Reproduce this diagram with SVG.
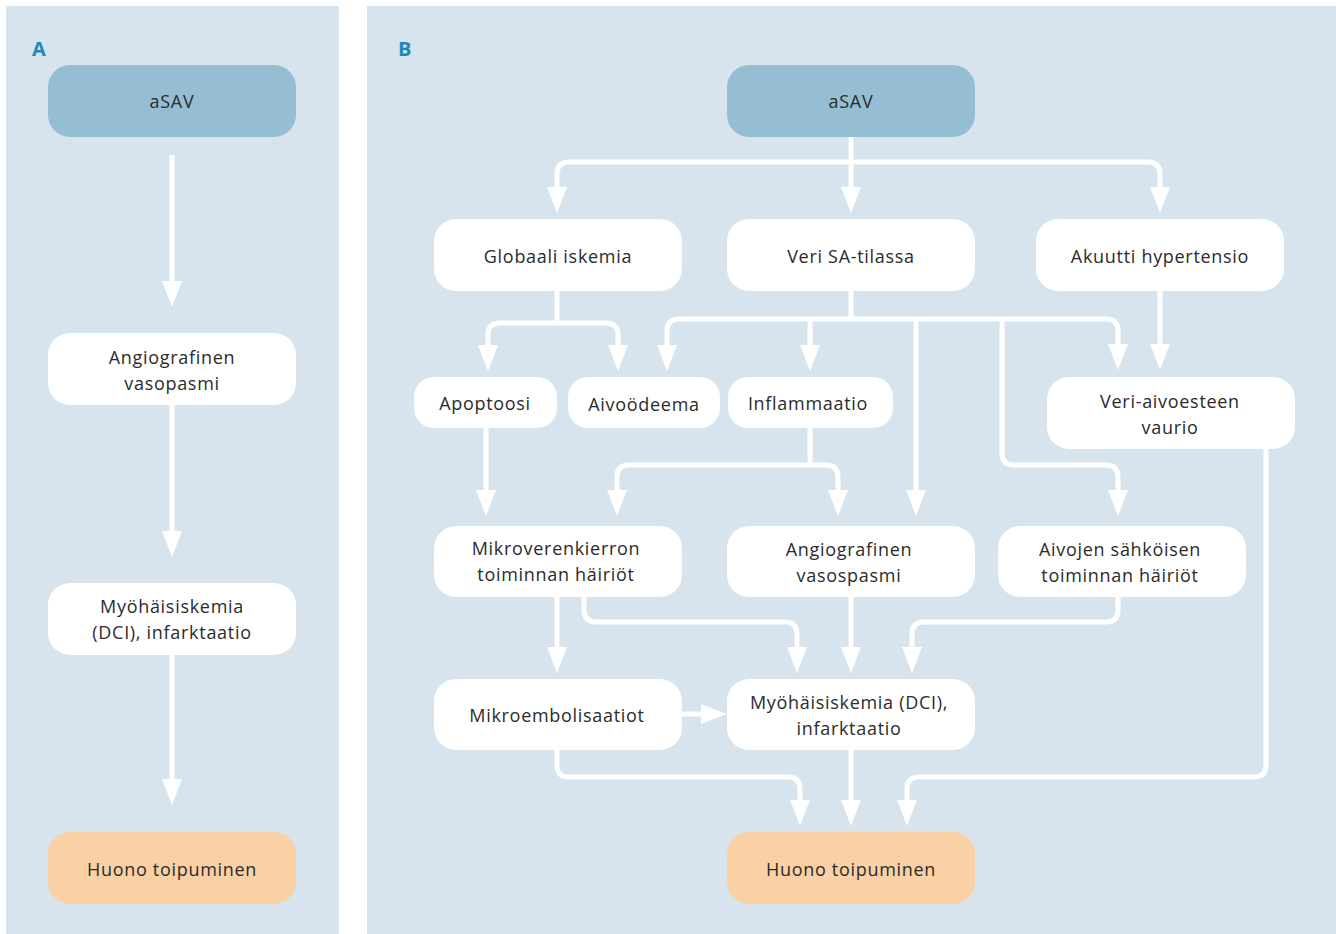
<svg xmlns="http://www.w3.org/2000/svg" width="1336" height="934" viewBox="0 0 1336 934">
<style>
.panel{fill:#d7e3ed}
.node rect{fill:#ffffff}
.node.top rect{fill:#96bed3}
.node.end rect{fill:#fad0a5}
.node text{font-family:"Open Sans","Noto Sans",sans-serif;font-size:18px;fill:#2b2b2b;text-anchor:middle;letter-spacing:0.7px}
.lbl{font-family:"Open Sans","Noto Sans",sans-serif;font-size:20px;font-weight:bold;fill:#1b8ab6}
#connectors path{fill:none;stroke:#ffffff;stroke-width:5}
</style>
<defs>
<marker id="ah" markerUnits="userSpaceOnUse" markerWidth="27" markerHeight="20" refX="0" refY="10" orient="auto" overflow="visible">
<path d="M0,0 L26,10 L0,20 z" fill="#ffffff"/>
</marker>
</defs>
<rect class="panel" x="6" y="6" width="333" height="928"/>
<rect class="panel" x="367" y="6" width="969" height="928"/>
<text class="lbl" x="32" y="56">A</text>
<text class="lbl" x="398" y="56">B</text>

<g id="connectors">
<path d="M172,155 V281" marker-end="url(#ah)"/>
<path d="M172,405 V531" marker-end="url(#ah)"/>
<path d="M172,655 V779" marker-end="url(#ah)"/>
<path d="M851,137 V187" marker-end="url(#ah)"/>
<path d="M851,162 H569 Q557,162 557,174 V187" marker-end="url(#ah)"/>
<path d="M851,162 H1148 Q1160,162 1160,174 V187" marker-end="url(#ah)"/>
<path d="M557,291 V323"/>
<path d="M557,323 H500 Q488,323 488,335 V345" marker-end="url(#ah)"/>
<path d="M557,323 H606 Q618,323 618,335 V345" marker-end="url(#ah)"/>
<path d="M851,291 V319"/>
<path d="M851,319 H679 Q667,319 667,331 V345" marker-end="url(#ah)"/>
<path d="M810,319 V345" marker-end="url(#ah)"/>
<path d="M916,319 V490" marker-end="url(#ah)"/>
<path d="M851,319 H1106 Q1118,319 1118,331 V344" marker-end="url(#ah)"/>
<path d="M1002,319 V453 Q1002,465 1014,465 H1106 Q1118,465 1118,477 V490" marker-end="url(#ah)"/>
<path d="M1160,291 V344" marker-end="url(#ah)"/>
<path d="M486,428 V490" marker-end="url(#ah)"/>
<path d="M810,428 V465"/>
<path d="M810,465 H629 Q617,465 617,477 V490" marker-end="url(#ah)"/>
<path d="M810,465 H826 Q838,465 838,477 V490" marker-end="url(#ah)"/>
<path d="M1266,449 V765 Q1266,777 1254,777 H919 Q907,777 907,789 V800" marker-end="url(#ah)"/>
<path d="M557,597 V647" marker-end="url(#ah)"/>
<path d="M584,597 V610 Q584,622 596,622 H785 Q797,622 797,634 V647" marker-end="url(#ah)"/>
<path d="M851,597 V647" marker-end="url(#ah)"/>
<path d="M1118,597 V610 Q1118,622 1106,622 H924 Q912,622 912,634 V647" marker-end="url(#ah)"/>
<path d="M682,714 H701" marker-end="url(#ah)"/>
<path d="M557,750 V765 Q557,777 569,777 H788 Q800,777 800,789 V800" marker-end="url(#ah)"/>
<path d="M851,750 V800" marker-end="url(#ah)"/>
</g>

<g id="a-asav" class="node top"><rect x="48" y="65" width="248" height="72" rx="22"/><text x="172" y="108">aSAV</text></g>
<g id="a-vaso" class="node"><rect x="48" y="333" width="248" height="72" rx="22"/><text x="172" y="364">Angiografinen</text><text x="172" y="390">vasopasmi</text></g>
<g id="a-dci" class="node"><rect x="48" y="583" width="248" height="72" rx="22"/><text x="172" y="613">Myöhäisiskemia</text><text x="172" y="639">(DCI), infarktaatio</text></g>
<g id="a-huono" class="node end"><rect x="48" y="832" width="248" height="72" rx="22"/><text x="172" y="876">Huono toipuminen</text></g>

<g id="b-asav" class="node top"><rect x="727" y="65" width="248" height="72" rx="22"/><text x="851" y="108">aSAV</text></g>
<g id="b-glob" class="node"><rect x="434" y="219" width="248" height="72" rx="22"/><text x="558" y="263">Globaali iskemia</text></g>
<g id="b-veri" class="node"><rect x="727" y="219" width="248" height="72" rx="22"/><text x="851" y="263">Veri SA-tilassa</text></g>
<g id="b-akuutti" class="node"><rect x="1036" y="219" width="248" height="72" rx="22"/><text x="1160" y="263">Akuutti hypertensio</text></g>
<g id="b-apop" class="node"><rect x="414" y="377" width="143" height="51" rx="20"/><text x="485" y="410">Apoptoosi</text></g>
<g id="b-aivo" class="node"><rect x="568" y="377" width="152" height="51" rx="20"/><text x="644" y="411">Aivoödeema</text></g>
<g id="b-infl" class="node"><rect x="728" y="377" width="165" height="51" rx="20"/><text x="808" y="410">Inflammaatio</text></g>
<g id="b-bbb" class="node"><rect x="1047" y="377" width="248" height="72" rx="22"/><text x="1170" y="408">Veri-aivoesteen</text><text x="1170" y="434">vaurio</text></g>
<g id="b-mikro" class="node"><rect x="434" y="526" width="248" height="71" rx="22"/><text x="556" y="555">Mikroverenkierron</text><text x="556" y="581">toiminnan häiriöt</text></g>
<g id="b-vaso" class="node"><rect x="727" y="526" width="248" height="71" rx="22"/><text x="849" y="556">Angiografinen</text><text x="849" y="582">vasospasmi</text></g>
<g id="b-sahko" class="node"><rect x="998" y="526" width="248" height="71" rx="22"/><text x="1120" y="556">Aivojen sähköisen</text><text x="1120" y="582">toiminnan häiriöt</text></g>
<g id="b-emb" class="node"><rect x="434" y="679" width="248" height="71" rx="22"/><text x="557" y="722">Mikroembolisaatiot</text></g>
<g id="b-dci" class="node"><rect x="727" y="679" width="248" height="71" rx="22"/><text x="849" y="709">Myöhäisiskemia (DCI),</text><text x="849" y="735">infarktaatio</text></g>
<g id="b-huono" class="node end"><rect x="727" y="832" width="248" height="72" rx="22"/><text x="851" y="876">Huono toipuminen</text></g>
</svg>
